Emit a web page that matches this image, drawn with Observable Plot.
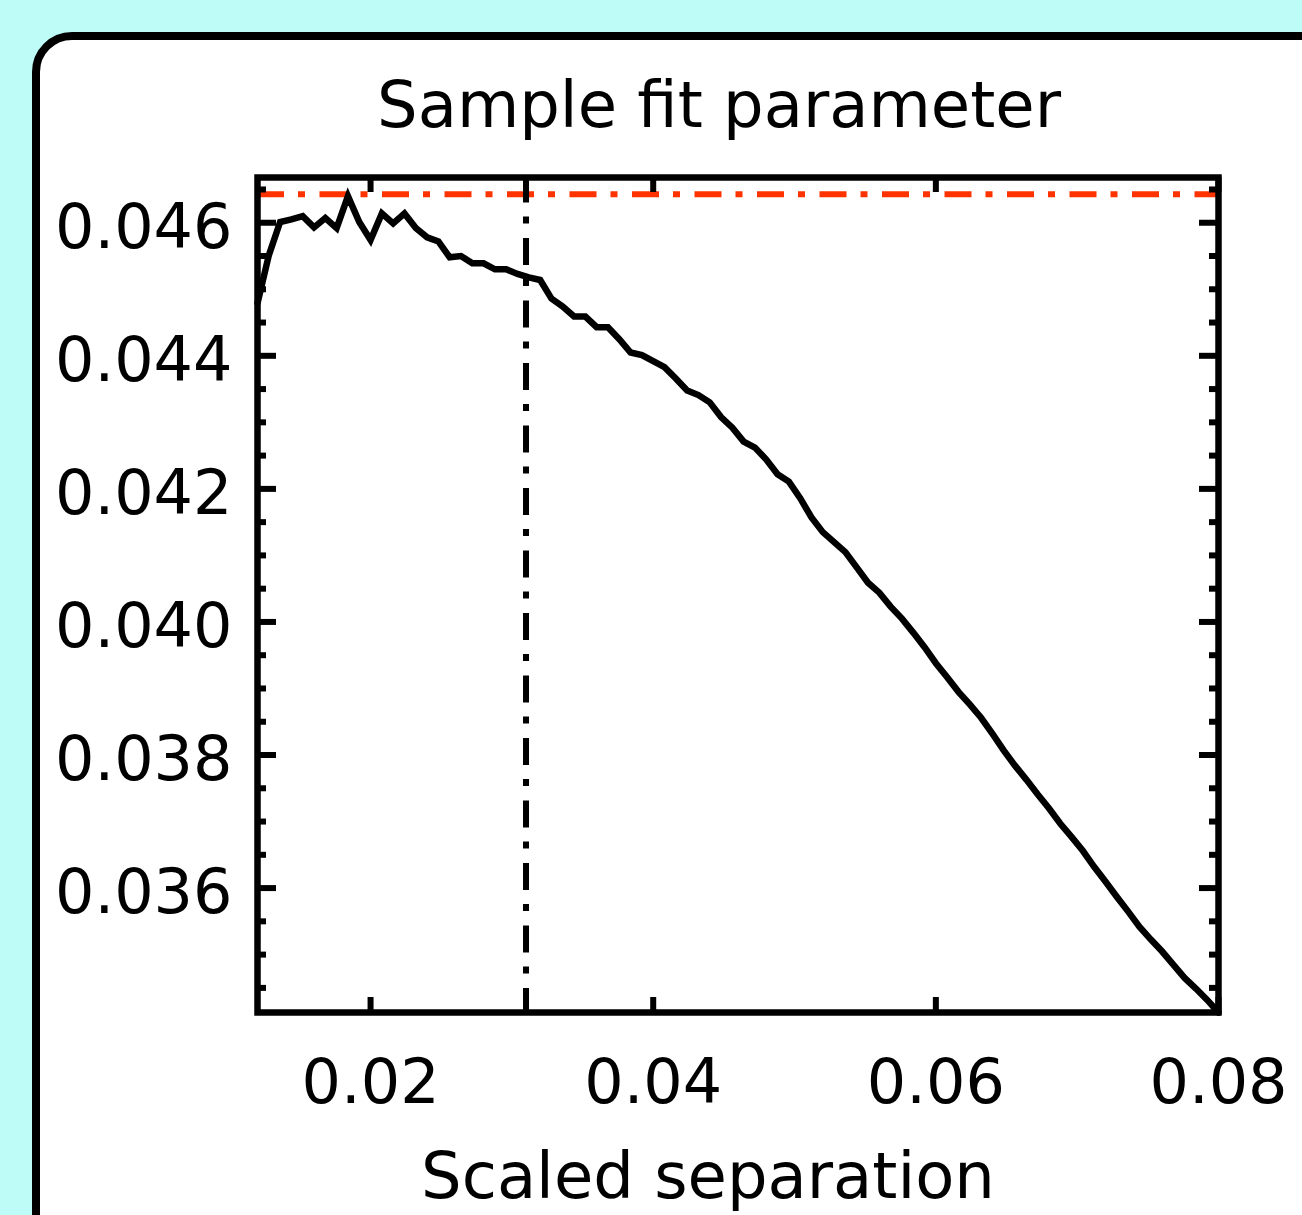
<!DOCTYPE html>
<html>
<head>
<meta charset="utf-8">
<script src="https://cdn.jsdelivr.net/npm/d3@7"></script>
<script src="https://cdn.jsdelivr.net/npm/@observablehq/plot@0.6"></script>
<style>
  html, body { margin: 0; padding: 0; }
  body { width: 1302px; height: 1215px; overflow: hidden; background: #befcf7; position: relative; font-family: "DejaVu Sans", sans-serif; }
  #panel { position: absolute; left: 32px; top: 32px; width: 1400px; height: 1300px; border: 8px solid #000; border-radius: 40px; background: #fff; box-sizing: border-box; }
  #title { position: absolute; left: 719px; top: 73px; transform: translateX(-50%); font-size: 64px; line-height: 64px; white-space: nowrap; color: #000; }
  #chart { position: absolute; left: 40px; top: 140px; }
</style>
</head>
<body>
<div id="panel"></div>
<div id="title">Sample fit parameter</div>
<div id="chart"></div>
<script>
const titleText = "Sample fit parameter";
const xLabel = "Scaled separation";

const separation = [
  0.0120, 0.0128, 0.0136, 0.0144, 0.0152, 0.0160, 0.0168, 0.0176, 0.0184, 0.0192,
  0.0200, 0.0208, 0.0216, 0.0224, 0.0232, 0.0240, 0.0248, 0.0256, 0.0264, 0.0272,
  0.0280, 0.0288, 0.0296, 0.0304, 0.0312, 0.0320, 0.0328, 0.0336, 0.0344, 0.0352,
  0.0360, 0.0368, 0.0376, 0.0384, 0.0392, 0.0400, 0.0408, 0.0416, 0.0424, 0.0432,
  0.0440, 0.0448, 0.0456, 0.0464, 0.0472, 0.0480, 0.0488, 0.0496, 0.0504, 0.0512,
  0.0520, 0.0528, 0.0536, 0.0544, 0.0552, 0.0560, 0.0568, 0.0576, 0.0584, 0.0592,
  0.0600, 0.0608, 0.0616, 0.0624, 0.0632, 0.0640, 0.0648, 0.0656, 0.0664, 0.0672,
  0.0680, 0.0688, 0.0696, 0.0704, 0.0712, 0.0720, 0.0728, 0.0736, 0.0744, 0.0752,
  0.0760, 0.0768, 0.0776, 0.0784, 0.0792, 0.0800
];
const fitParam = [
  0.04479, 0.04551, 0.04601, 0.04605, 0.04610, 0.04593, 0.04607, 0.04592, 0.04640, 0.04601,
  0.04574, 0.04614, 0.04599, 0.04614, 0.04592, 0.04578, 0.04572, 0.04548, 0.04550, 0.04539,
  0.04539, 0.04530, 0.04530, 0.04523, 0.04518, 0.04514, 0.04486, 0.04474, 0.04459, 0.04459,
  0.04443, 0.04443, 0.04425, 0.04405, 0.04401, 0.04392, 0.04383, 0.04366, 0.04348, 0.04341,
  0.04330, 0.04308, 0.04292, 0.04271, 0.04262, 0.04244, 0.04222, 0.04211, 0.04186, 0.04157,
  0.04135, 0.04120, 0.04105, 0.04082, 0.04059, 0.04044, 0.04023, 0.04005, 0.03984, 0.03962,
  0.03938, 0.03917, 0.03895, 0.03876, 0.03856, 0.03832, 0.03807, 0.03784, 0.03763, 0.03741,
  0.03720, 0.03697, 0.03677, 0.03656, 0.03632, 0.03610, 0.03587, 0.03565, 0.03542, 0.03523,
  0.03505, 0.03485, 0.03465, 0.03449, 0.03432, 0.03413
];
const refLevel = [0.04643];
const cutSeparation = [0.0310];

const xTicks = [0.02, 0.04, 0.06, 0.08];
const yTicks = [0.036, 0.038, 0.040, 0.042, 0.044, 0.046];
const yMinorTicks = [0.0345, 0.0350, 0.0355, 0.0365, 0.0370, 0.0375, 0.0385, 0.0390, 0.0395,
  0.0405, 0.0410, 0.0415, 0.0425, 0.0430, 0.0435, 0.0445, 0.0450, 0.0455, 0.0465];

const table = separation.map((x, i) => ({x, y: fitParam[i]}));

const W = 1262, H = 1075;
const mL = 217, mR = 84, mT = 37, mB = 203;
const fw = W - mL - mR, fh = H - mT - mB;

document.getElementById("title").textContent = titleText;

const chart = Plot.plot({
  width: W,
  height: H,
  marginLeft: mL,
  marginRight: mR,
  marginTop: mT,
  marginBottom: mB,
  style: {fontFamily: "DejaVu Sans, sans-serif", fontSize: "62px", background: "white", color: "black", overflow: "visible"},
  x: {domain: [0.012, 0.080]},
  y: {domain: [0.03413, 0.04668]},
  marks: [
    Plot.ruleY(refLevel, {y: d => d, stroke: "#ff3300", strokeWidth: 6, strokeDasharray: "27,14,7,14.5"}),
    Plot.ruleX(cutSeparation, {x: d => d, stroke: "black", strokeWidth: 6, strokeDasharray: "27,14,7,14.5", strokeDashoffset: 1.5}),
    Plot.line(table, {x: "x", y: "y", stroke: "black", strokeWidth: 6.5, strokeLinejoin: "miter", strokeMiterlimit: 10}),
    Plot.tickX(xTicks, {x: d => d, insetTop: fh - 15, stroke: "black", strokeWidth: 6}),
    Plot.tickX(xTicks, {x: d => d, insetBottom: fh - 15, stroke: "black", strokeWidth: 6}),
    Plot.tickY(yTicks, {y: d => d, insetRight: fw - 19, stroke: "black", strokeWidth: 6}),
    Plot.tickY(yTicks, {y: d => d, insetLeft: fw - 19, stroke: "black", strokeWidth: 6}),
    Plot.tickY(yMinorTicks, {y: d => d, insetRight: fw - 9, stroke: "black", strokeWidth: 6}),
    Plot.tickY(yMinorTicks, {y: d => d, insetLeft: fw - 9, stroke: "black", strokeWidth: 6}),
    Plot.axisX({ticks: xTicks, tickSize: 0, tickPadding: 46, tickFormat: d3.format(".2f"), fontSize: 62, label: null}),
    Plot.axisY({ticks: yTicks, tickSize: 0, tickPadding: 25, tickFormat: d3.format(".3f"), fontSize: 62, dy: 5, label: null}),
    Plot.text([xLabel], {text: d => d, frameAnchor: "bottom", lineAnchor: "bottom", dx: -30, dy: 185, fontSize: 64, fill: "black"}),
    Plot.frame({stroke: "black", strokeWidth: 6.5})
  ]
});
document.getElementById("chart").appendChild(chart);
</script>
</body>
</html>
